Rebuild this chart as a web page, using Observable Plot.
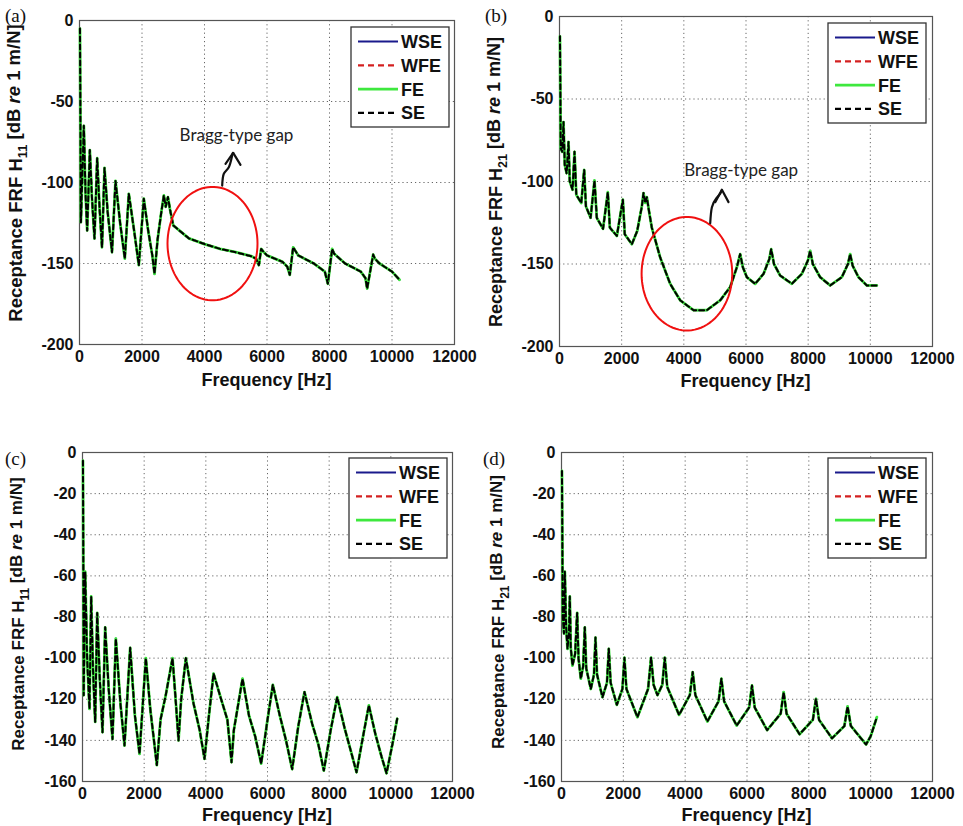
<!DOCTYPE html>
<html><head><meta charset="utf-8">
<script src="https://cdn.jsdelivr.net/npm/d3@7"></script>
<script src="https://cdn.jsdelivr.net/npm/@observablehq/plot@0.6"></script>
<style>
body{margin:0;background:#fff;}
#fig{position:relative;width:963px;height:826px;overflow:hidden;font-family:"Liberation Sans",Arial,sans-serif;}
.panel{position:absolute;}
.panel svg{overflow:visible;}
#overlay{position:absolute;left:0;top:0;}
</style></head><body><div id="fig"></div>
<script>
// ---------- series (legend) ----------
const seriesNames = ["WSE", "WFE", "FE", "SE"];
const seriesColors = ["#1a1a8c", "#d42020", "#3ee83e", "#000000"];
const seriesDash = [null, "5,3", null, "5,3"];
const seriesWidth = [2, 2, 2.8, 2];

// ---------- ticks ----------
const xTicks = [0, 2000, 4000, 6000, 8000, 10000, 12000];
const yTicksAB = [-200, -150, -100, -50, 0];
const yTicksCD = [-160, -140, -120, -100, -80, -60, -40, -20, 0];

// ---------- panel (a): H11 ----------
const freqA = [15,45,139,190,245,331,400,480,565,640,720,800,900,1040,1152,1300,1450,1578,1750,1898,2058,2200,2330,2400,2500,2620,2700,2760,2830,2900,3000,3500,4000,4500,5000,5500,5650,5740,5813,5900,6000,6500,6650,6730,6837,6900,7000,7500,7850,7947,8085,8150,8500,9000,9150,9205,9397,9450,9600,10000,10240];
const dbA   = [-5,-124.5,-65,-105,-129.6,-80,-110,-134.6,-85,-115,-140,-91,-118,-143,-99,-125,-147,-107,-130,-151,-110,-130,-145,-156.4,-135,-118,-108,-115,-109,-117,-126.5,-134.5,-138,-141,-143,-145.5,-147,-151,-141,-143,-145,-149,-152,-157,-140,-142,-145,-150,-155,-162.5,-141,-144,-150,-155,-159,-165.5,-144.5,-147,-150,-155,-160];

// ---------- panel (b): H21 ----------
const freqB = [15,40,90,129,170,230,290,330,420,483,540,700,794,850,1000,1126,1200,1400,1555,1620,1845,2038,2100,2327,2500,2650,2702,2760,2810,2880,2970,3239,3560,3882,4311,4740,5169,5491,5705,5812,5900,6027,6295,6563,6750,6810,6900,7099,7475,7796,7990,8064,8150,8386,8708,9083,9280,9351,9430,9619,9887,10209];
const dbB   = [-12,-80,-82,-64,-90,-95,-76,-100,-105,-82,-108,-113,-93,-115,-122,-99.4,-122,-128.7,-106.5,-128,-133,-111,-132,-138,-130,-115,-107,-113,-109.5,-118,-128,-146,-162,-172,-178,-178,-172,-164,-152,-144,-152,-158,-162,-156,-147,-141,-150,-157,-162,-156,-148,-142,-150,-158,-163,-158,-150,-144,-151,-158,-163,-163];

// ---------- panel (c): H11 ----------
const freqC = [15,40,87,150,227,281,340,411,476,560,649,735,850,973,1081,1230,1362,1546,1700,1849,2054,2200,2411,2530,2700,2920,3020,3114,3200,3352,3600,3800,3957,4100,4250,4476,4700,4833,4909,5190,5400,5600,5795,6000,6173,6400,6600,6800,7000,7200,7450,7650,7827,8050,8260,8500,8700,8887,9100,9287,9500,9700,9860,10050,10206];
const dbC   = [-4,-118,-58,-100,-124.7,-70,-105,-131,-78,-110,-136,-85,-115,-139.3,-90.5,-122,-142.5,-95,-128,-146.6,-100,-125,-152,-130,-118,-100,-120,-140,-120,-100,-122,-135,-149,-128,-107.5,-119,-130,-150.6,-135,-110,-128,-138,-151.3,-130,-113,-128,-140,-154,-133,-116.5,-132,-142,-154.7,-135,-119,-134,-145,-155.5,-138,-123,-137,-148,-156,-142,-129.5];

// ---------- panel (d): H21 ----------
const freqD = [15,40,80,108,150,194,240,269,300,355,440,506,550,625,700,754,800,948,1050,1099,1150,1325,1470,1530,1590,1789,1970,2036,2100,2456,2800,2898,2980,3103,3260,3340,3420,3803,4150,4244,4330,4719,5080,5171,5260,5666,6070,6162,6250,6650,7090,7185,7280,7700,8130,8230,8330,8750,9150,9253,9360,9850,10000,10201];
const dbD   = [-9,-80,-88,-58,-85,-95.5,-88,-70,-95,-103.6,-98,-78,-100,-110,-104,-85,-105,-115,-108,-90,-108,-119,-112,-95.5,-112,-122.7,-115,-99.8,-115,-128.7,-115,-99.8,-113,-118,-113,-99.8,-114,-127.6,-118,-106.8,-118,-130.8,-121,-110,-121,-132.8,-124,-113.3,-124,-135,-127,-116.5,-127,-137,-130,-119.8,-130,-139,-133,-123.5,-133,-142,-138,-128.7];

// ---------- annotations ----------
const gapText = "Bragg-type gap";
const gapA = {cx: 4256, cy: -137.7, rx: 1440, ry: 35, textF: 5024, textDb: -71.3,
  stem: [[4566,-101.9],[4618,-94.6],[4778,-90.6],[4886,-83.3],[4918,-81.7]],
  head: [[4672,-88.5],[4918,-81.7],[5152,-89.1]]};
const gapB = {cx: 4099, cy: -155.9, rx: 1458, ry: 34.4, textF: 5846, textDb: -93.3,
  stem: [[4849,-125.3],[4903,-115.6],[5042,-110.3],[5171,-107.3],[5225,-105]],
  head: [[5010,-112.5],[5225,-105],[5438,-112.5]]};

const fig = d3.select("#fig");

function makePanel(cfg) {
  const data = cfg.freq.map((f, i) => ({f, db: cfg.db[i]}));
  const marks = [
    Plot.ruleX(xTicks.slice(1, -1), {stroke: "#000", strokeOpacity: 0.6, strokeDasharray: "1.2,3"}),
    Plot.ruleY(cfg.yTicks.slice(1, -1), {stroke: "#000", strokeOpacity: 0.6, strokeDasharray: "1.2,3"}),
    Plot.frame({stroke: "#555", strokeWidth: 1.2}),
    Plot.axisX({ticks: xTicks, tickFormat: d => String(d), tickSize: 0, tickPadding: 6, label: null,
      fontSize: 16, fontWeight: "bold", fill: "#111"}),
    Plot.axisY({ticks: cfg.yTicks, tickFormat: d => String(d), tickSize: 0, tickPadding: 6, label: null,
      fontSize: 16, fontWeight: "bold", fill: "#111"})
  ];
  seriesNames.forEach((name, k) => {
    marks.push(Plot.line(data, {x: "f", y: "db", stroke: seriesColors[k], strokeWidth: seriesWidth[k],
      strokeDasharray: seriesDash[k] || undefined, strokeLinejoin: "round"}));
  });
  if (cfg.gap) {
    const g = cfg.gap;
    const ell = d3.range(0, 361, 4).map(t => ({f: g.cx + g.rx * Math.cos(t * Math.PI / 180), db: g.cy + g.ry * Math.sin(t * Math.PI / 180)}));
    marks.push(Plot.line(ell, {x: "f", y: "db", stroke: "#f01010", strokeWidth: 2}));
    marks.push(Plot.line(g.stem, {x: d => d[0], y: d => d[1], stroke: "#111", strokeWidth: 2.2, curve: "natural"}));
    marks.push(Plot.line(g.head, {x: d => d[0], y: d => d[1], stroke: "#111", strokeWidth: 2.2, strokeLinejoin: "miter"}));
    marks.push(Plot.text([g], {x: "textF", y: "textDb", text: () => gapText, fontFamily: "Lato, 'Open Sans', sans-serif",
      fontSize: 17, fontWeight: "normal", fill: "#222"}));
  }
  const svg = Plot.plot({
    width: cfg.w, height: cfg.h,
    marginLeft: cfg.ml, marginRight: cfg.mr, marginTop: cfg.mt, marginBottom: cfg.mb,
    x: {domain: [0, 12000]},
    y: {domain: cfg.yDomain},
    style: {fontFamily: "'Liberation Sans', Arial, sans-serif", fontSize: "16px", fontWeight: "bold", color: "#111", background: "transparent", overflow: "visible"},
    marks
  });
  const s = d3.select(svg);
  const pw = cfg.w - cfg.ml - cfg.mr;
  // x label
  s.append("text").attr("x", cfg.ml + pw / 2).attr("y", cfg.h - cfg.mb + cfg.xlabOff)
    .attr("text-anchor", "middle").attr("font-size", 18).attr("font-weight", "bold").attr("fill", "#111")
    .text("Frequency [Hz]");
  // y label
  const t = s.append("text").attr("transform", `translate(${cfg.ylabX},${cfg.ylabY}) rotate(-90)`)
    .attr("text-anchor", "middle").attr("font-size", cfg.ylabSize).attr("font-weight", "bold").attr("fill", "#111");
  t.append("tspan").text("Receptance FRF H");
  t.append("tspan").attr("font-size", "70%").attr("dy", "0.38em").text(cfg.sub);
  t.append("tspan").attr("dy", "-0.38em").text(" [dB ");
  t.append("tspan").attr("font-style", "italic").text("re");
  t.append("tspan").text(" 1 m/N]");
  fig.append("div").attr("class", "panel").style("left", cfg.left + "px").style("top", cfg.top + "px").node().appendChild(svg);
}

makePanel({freq: freqA, db: dbA, yTicks: yTicksAB, yDomain: [-200, 0], gap: gapA, sub: "11",
  left: 0, top: 0, w: 481, h: 400, ml: 79, mr: 27, mt: 20, mb: 56, xlabOff: 42, ylabX: 22, ylabY: 173, ylabSize: 18.5});
makePanel({freq: freqB, db: dbB, yTicks: yTicksAB, yDomain: [-200, 0], gap: gapB, sub: "21",
  left: 480, top: 0, w: 483, h: 400, ml: 79, mr: 31, mt: 16, mb: 54, xlabOff: 41, ylabX: 22, ylabY: 182, ylabSize: 18});
makePanel({freq: freqC, db: dbC, yTicks: yTicksCD, yDomain: [-160, 0], gap: null, sub: "11",
  left: 0, top: 420, w: 481, h: 406, ml: 82, mr: 29, mt: 32, mb: 45, xlabOff: 40, ylabX: 24, ylabY: 194, ylabSize: 17});
makePanel({freq: freqD, db: dbD, yTicks: yTicksCD, yDomain: [-160, 0], gap: null, sub: "21",
  left: 480, top: 420, w: 483, h: 406, ml: 81, mr: 31, mt: 32, mb: 45, xlabOff: 40, ylabX: 24, ylabY: 192, ylabSize: 17});

// ---------- overlay: panel letters & legends ----------
const panelLetters = ["(a)", "(b)", "(c)", "(d)"];
const letterPos = [[5, 22], [485, 22], [5, 465], [483, 465]];
const legendPos = [[351, 27], [828, 23], [349, 458], [828, 458]];
const ov = fig.append("svg").attr("id", "overlay").attr("width", 963).attr("height", 826);
panelLetters.forEach((L, i) => {
  ov.append("text").attr("x", letterPos[i][0]).attr("y", letterPos[i][1])
    .attr("font-family", "'Liberation Serif', 'Times New Roman', serif").attr("font-size", 19).attr("fill", "#111").text(L);
});
legendPos.forEach(([lx, ly]) => {
  const g = ov.append("g").attr("transform", `translate(${lx},${ly})`);
  g.append("rect").attr("width", 98).attr("height", 100).attr("fill", "#fff").attr("stroke", "#333").attr("stroke-width", 1.3);
  seriesNames.forEach((name, k) => {
    const yy = 14.5 + k * 23.8;
    g.append("line").attr("x1", 7).attr("x2", 47).attr("y1", yy).attr("y2", yy)
      .attr("stroke", seriesColors[k]).attr("stroke-width", k === 2 ? 2.8 : 2.2)
      .attr("stroke-dasharray", seriesDash[k] ? "6,4" : null);
    g.append("text").attr("x", 50).attr("y", yy + 6.5).attr("font-size", 18).attr("font-weight", "bold")
      .attr("font-family", "'Liberation Sans', Arial, sans-serif").attr("fill", "#111").text(name);
  });
});
</script></body></html>
